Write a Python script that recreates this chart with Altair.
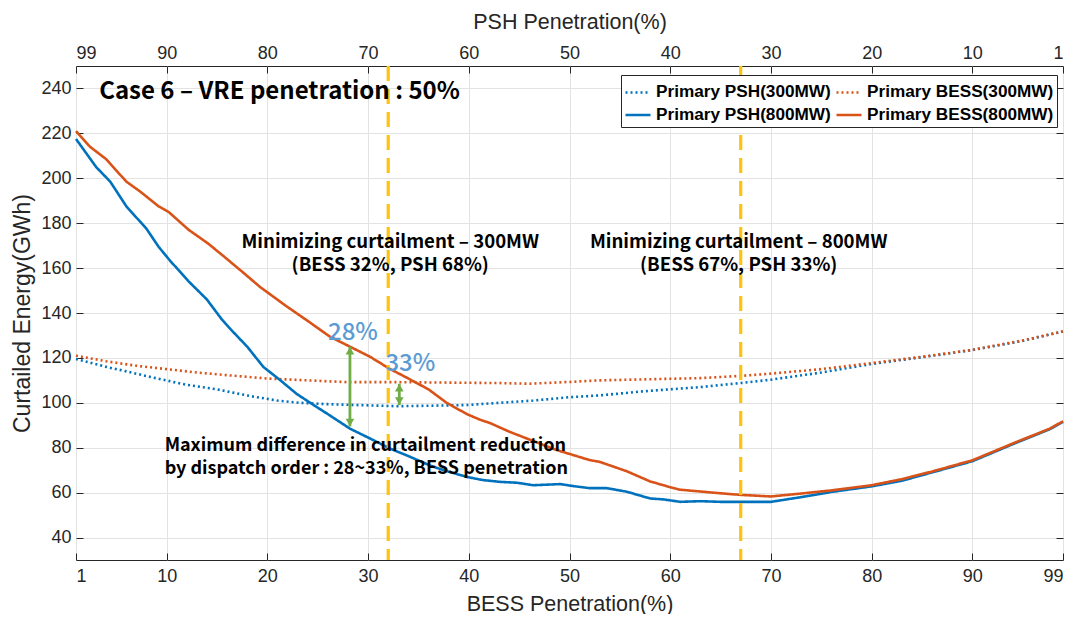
import altair as alt
import pandas as pd

# ---------------- data ----------------
x_ticks = [1, 10, 20, 30, 40, 50, 60, 70, 80, 90, 99]
y_ticks = [40, 60, 80, 100, 120, 140, 160, 180, 200, 220, 240]

series_names = ["Primary PSH(300MW)", "Primary BESS(300MW)",
                "Primary PSH(800MW)", "Primary BESS(800MW)"]

psh300_x = [1, 4, 6, 8.4, 12, 15, 18.3, 21, 23.2, 26, 28.2, 32.8, 36, 39.8, 43,
            46.4, 50, 53, 57, 60, 63, 67, 70, 75, 80, 85, 90, 95, 99]
psh300_y = [119.5, 116, 114, 111.5, 108, 106, 103, 101, 100, 99.4, 99.1, 98.5, 98.7,
            99, 100, 101, 102.5, 103.3, 105, 106, 107, 108.8, 110.3, 113.5, 117.3,
            120.3, 123.5, 127.6, 131.8]

bess300_x = [1, 4, 7, 10, 13, 16.3, 20, 24, 28, 33, 38, 43, 46, 50, 53, 58, 63, 67,
             70, 75, 80, 85, 90, 95, 99]
bess300_y = [121, 118.5, 116.5, 115, 113.5, 112.2, 110.8, 110, 109.2, 109.2, 109,
             108.8, 108.5, 109.3, 110, 110.5, 111, 112, 113, 115, 117.7, 120.5,
             123.6, 127.8, 131.8]

psh800_x = [1, 3, 4.4, 6, 8, 9.2, 10.3, 12.2, 14, 15.5, 16.3, 18, 19.6, 21.3, 22.9,
            24.6, 26.2, 28.2, 30.2, 32.2, 34.2, 36.2, 37.5, 39.8, 41.4, 43.1, 44.8,
            46.4, 49.1, 50.4, 52, 53.7, 55.7, 58, 59.3, 61, 63, 65, 67, 70, 73, 76,
            80, 83, 86, 90, 94.4, 97.7, 99]
psh800_y = [217.5, 205, 198.5, 187.5, 177.5, 169.5, 163.5, 154, 146, 137, 133, 125,
            116, 110, 104, 99, 94.4, 88.5, 84.1, 79.6, 75.9, 72, 70, 67, 65.6, 64.8,
            64.4, 63.3, 63.8, 62.9, 62, 62, 60.4, 57.4, 57, 55.9, 56.2, 55.9, 55.9,
            55.9, 58, 60.3, 62.8, 65.3, 69, 74, 82.3, 88.3, 91.5]

bess800_x = [1, 2.4, 4, 6, 7.4, 9.2, 10.2, 12.2, 14.1, 15.6, 17.6, 19.3, 21.9, 24,
             26.2, 28.2, 30.2, 32.2, 33.5, 36, 37.8, 39.8, 41.1, 42.1, 44.1, 46.4,
             48.7, 50.4, 52, 53, 55.7, 58, 59.7, 61, 63, 65, 67, 70, 73, 76, 80, 83,
             86, 90, 94.4, 97.7, 99]
bess800_y = [221, 214, 208.5, 198.5, 194, 187.5, 185, 177, 171, 165.5, 158, 151.5,
             143, 136.5, 129.5, 125, 120.5, 115, 112, 106, 100, 95, 92.5, 91, 87, 83,
             79, 76.7, 74.5, 73.7, 69.5, 65, 62.8, 61.3, 60.5, 59.7, 59, 58.3, 59.6,
             61, 63.3, 66, 69.4, 74.4, 82.6, 88.5, 91.8]

optimum_x = [32, 67]

arrow_x = [28.2, 33.1]
arrow_top = [125, 108.5]
arrow_bottom = [89.5, 99]

pct_labels = ["28%", "33%"]
pct_x = [28.5, 34.2]
pct_y = [131, 117.4]

min_text_x = [32.2, 66.8]
min_labels = ["Minimizing curtailment \u2013 300MW\n(BESS 32%, PSH 68%)",
              "Minimizing curtailment \u2013 800MW\n(BESS 67%, PSH 33%)"]
min_y = 171.4

note_label = ("Maximum difference in curtailment reduction\n"
              "by dispatch order : 28~33%, BESS penetration")
note_x = 9.8
note_y = 80.6

case_title = "Case 6 \u2013 VRE penetration : 50%"
case_x = 3.3
case_y = 238.6

# ---------------- build tables ----------------
rows = []
for name, xs, ys in [(series_names[0], psh300_x, psh300_y),
                     (series_names[1], bess300_x, bess300_y),
                     (series_names[2], psh800_x, psh800_y),
                     (series_names[3], bess800_x, bess800_y)]:
    for i, (a, b) in enumerate(zip(xs, ys)):
        rows.append({"bess": a, "energy": b, "series": name, "i": i})
df = pd.DataFrame(rows)

BLUE = "#0072BD"
ORANGE = "#D95319"
YELLOW = "#FFC20E"
GREEN = "#70AD47"
LBLUE = "#5B9BD5"
TXT = "#262626"
GRID = "#E3E3E3"
ANN_FONT = "Noto Sans CJK KR"
AX_FONT = "Liberation Sans"

xscale = alt.Scale(domain=[1, 99], nice=False, zero=False)
yscale = alt.Scale(domain=[30, 250], nice=False, zero=False)

color = alt.Color("series:N",
                  scale=alt.Scale(domain=series_names, range=[BLUE, ORANGE, BLUE, ORANGE]),
                  legend=alt.Legend(title=None, orient="none", legendX=545, legendY=9,
                                    columns=2, direction="horizontal",
                                    symbolType="stroke", symbolStrokeWidth=2.5,
                                    symbolSize=625, labelFont=AX_FONT,
                                    labelFontWeight="bold", labelFontSize=17.2,
                                    labelColor="black", labelLimit=400,
                                    strokeColor=TXT, fillColor="white", padding=3,
                                    columnPadding=0, rowPadding=-10, labelOffset=4))
dash = alt.StrokeDash("series:N",
                      scale=alt.Scale(domain=series_names,
                                      range=[[2, 3], [2, 3], [1, 0], [1, 0]]),
                      legend=alt.Legend(title=None))

label_cfg = dict(labelFont=AX_FONT, labelFontSize=18, labelColor=TXT,
                 ticks=False, domain=False)
title_cfg = dict(titleFont=AX_FONT, titleFontWeight="normal", titleColor=TXT)

bottom_axis = alt.Axis(values=x_ticks, orient="bottom", grid=True, gridColor=GRID,
                       labelPadding=7, title="BESS Penetration(%)", titlePadding=8,
                       titleFontSize=21.5, **label_cfg, **title_cfg)
top_axis = alt.Axis(values=x_ticks, orient="top", grid=False,
                    labelExpr="100 - datum.value", labelPadding=4,
                    title="PSH Penetration(%)", titlePadding=11, titleFontSize=21.5,
                    **label_cfg, **title_cfg)
left_axis = alt.Axis(values=y_ticks, orient="left", grid=True, gridColor=GRID,
                     labelPadding=5, title="Curtailed Energy(GWh)", titlePadding=6,
                     titleFontSize=23, **label_cfg, **title_cfg)


def tick_axis(values, orient):
    return alt.Axis(values=values, orient=orient, grid=False, labels=False,
                    domain=False, ticks=True, tickSize=7, tickColor=TXT,
                    tickWidth=1, offset=-7, title=None)


base = alt.Chart(df)


def series_layer(names, xaxis, yaxis):
    return base.transform_filter(
        alt.FieldOneOfPredicate(field="series", oneOf=names)
    ).mark_line(strokeWidth=2.6).encode(
        x=alt.X("bess:Q", scale=xscale, axis=xaxis),
        y=alt.Y("energy:Q", scale=yscale, axis=yaxis),
        color=color, strokeDash=dash, order="i:Q", detail="series:N")


dotted = series_layer(series_names[:2], bottom_axis, left_axis)
blue_solid = series_layer([series_names[2]], tick_axis(x_ticks, "bottom"),
                          tick_axis(y_ticks, "left"))
orange_solid = series_layer([series_names[3]], tick_axis(x_ticks, "top"),
                            tick_axis(y_ticks, "right"))

opt_df = pd.DataFrame({"bess": optimum_x})
opt_rules = alt.Chart(opt_df).mark_rule(color=YELLOW, strokeWidth=3.2,
                                        strokeDash=[15, 8]).encode(
    x=alt.X("bess:Q", scale=xscale, axis=top_axis))

arr_df = pd.DataFrame({"bess": arrow_x, "top": arrow_top, "bottom": arrow_bottom})
arr_rule = alt.Chart(arr_df).mark_rule(color=GREEN, strokeWidth=2.8).encode(
    x=alt.X("bess:Q", scale=xscale, axis=None),
    y=alt.Y("top:Q", scale=yscale, axis=None), y2="bottom:Q")
arr_up = alt.Chart(arr_df).mark_point(shape="triangle-up", filled=True, color=GREEN,
                                      opacity=1, size=75, yOffset=4).encode(
    x=alt.X("bess:Q", scale=xscale, axis=None),
    y=alt.Y("top:Q", scale=yscale, axis=None))
arr_down = alt.Chart(arr_df).mark_point(shape="triangle-down", filled=True, color=GREEN,
                                        opacity=1, size=75, yOffset=-4).encode(
    x=alt.X("bess:Q", scale=xscale, axis=None),
    y=alt.Y("bottom:Q", scale=yscale, axis=None))

pct_df = pd.DataFrame({"bess": pct_x, "energy": pct_y, "label": pct_labels})
pct_text = alt.Chart(pct_df).mark_text(font=ANN_FONT, fontSize=24, color=LBLUE,
                                       fontWeight=500).encode(
    x=alt.X("bess:Q", scale=xscale, axis=None),
    y=alt.Y("energy:Q", scale=yscale, axis=None), text="label:N")

min_df = pd.DataFrame({"bess": min_text_x, "energy": [min_y] * 2, "label": min_labels})
min_text = alt.Chart(min_df).mark_text(font=ANN_FONT, fontSize=18.6, fontWeight="bold",
                                       color="black", lineBreak="\n",
                                       lineHeight=23).encode(
    x=alt.X("bess:Q", scale=xscale, axis=None),
    y=alt.Y("energy:Q", scale=yscale, axis=None), text="label:N")

note_df = pd.DataFrame({"bess": [note_x], "energy": [note_y], "label": [note_label]})
note_text = alt.Chart(note_df).mark_text(font=ANN_FONT, fontSize=18, fontWeight="bold",
                                         color="black", align="left", lineBreak="\n",
                                         lineHeight=22.5).encode(
    x=alt.X("bess:Q", scale=xscale, axis=None),
    y=alt.Y("energy:Q", scale=yscale, axis=None), text="label:N")

case_df = pd.DataFrame({"bess": [case_x], "energy": [case_y], "label": [case_title]})
case_text = alt.Chart(case_df).mark_text(font=ANN_FONT, fontSize=24, fontWeight="bold",
                                         color="black", align="left").encode(
    x=alt.X("bess:Q", scale=xscale, axis=None),
    y=alt.Y("energy:Q", scale=yscale, axis=None), text="label:N")

chart = alt.layer(
    dotted, blue_solid, orange_solid, opt_rules,
    arr_rule, arr_up, arr_down, pct_text, min_text, note_text, case_text
).resolve_axis(x="independent", y="independent").properties(
    width=987, height=494,
    autosize=alt.AutoSizeParams(type="none"),
    padding={"left": 68, "top": 58, "right": 8, "bottom": 54},
    background="white",
).configure_view(stroke=TXT, strokeWidth=1)

chart.save("out.html", embed_options={"renderer": "svg", "actions": False})
